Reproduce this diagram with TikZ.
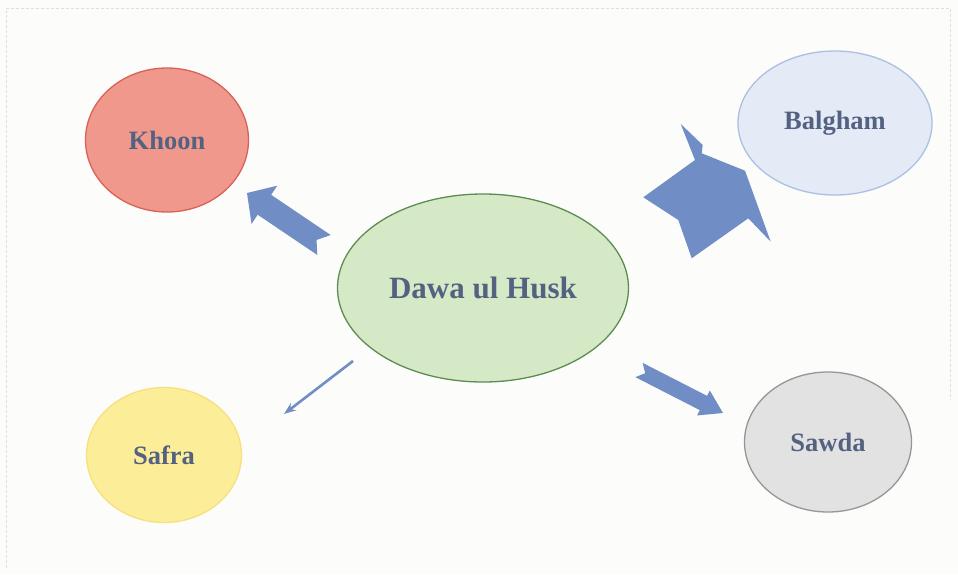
\documentclass[tikz,border=0pt]{standalone}
\usepackage{fontspec}
\setmainfont{Liberation Serif}
\usetikzlibrary{arrows.meta,shapes.geometric,calc}
\definecolor{hpaper}{RGB}{252,252,250}
\definecolor{hframe}{RGB}{222,222,222}
\definecolor{hlabel}{RGB}{84,98,130}
\definecolor{harrow}{RGB}{112,141,198}
\definecolor{khoonfill}{RGB}{240,152,140}
\definecolor{khoonline}{RGB}{216,98,88}
\definecolor{balfill}{RGB}{228,234,246}
\definecolor{balline}{RGB}{172,192,226}
\definecolor{dawafill}{RGB}{214,233,198}
\definecolor{dawaline}{RGB}{92,140,82}
\definecolor{safrafill}{RGB}{252,237,152}
\definecolor{safraline}{RGB}{246,224,128}
\definecolor{sawdafill}{RGB}{226,226,226}
\definecolor{sawdaline}{RGB}{150,150,150}
\tikzset{
  humour/.style={ellipse,line width=1.3pt,inner sep=0pt,text=hlabel,
    font=\bfseries\fontsize{26.5}{30}\selectfont},
  drugnode/.style={humour,font=\bfseries\fontsize{31}{34}\selectfont},
  blockfill/.style={fill=harrow},
  thinarrow/.style={-{Stealth[length=12pt,width=9pt]},line width=2.6pt,draw=harrow}
}
% tail, tip, half shaft, half head, head length, notch depth
\newcommand{\blockarr}[6]{%
  \coordinate (ba-n) at ($(#1)!#6!(#2)$);
  \coordinate (ba-h) at ($(#2)!#5!(#1)$);
  \fill[blockfill] ($(#1)!#3!90:(#2)$) -- (ba-n) -- ($(#1)!#3!-90:(#2)$)
    -- ($(ba-h)!#3!-90:(#2)$) -- ($(ba-h)!#4!-90:(#2)$) -- (#2)
    -- ($(ba-h)!#4!90:(#2)$) -- ($(ba-h)!#3!90:(#2)$) -- cycle;
}

\begin{document}
\begin{tikzpicture}[x=1pt,y=-1pt]
  \fill[hpaper] (0,0) rectangle (958,574);
  \draw[hframe,densely dashed,line width=0.6pt] (6,568) -- (6,8) -- (950,8) -- (950,400);
  \node[humour,fill=khoonfill,draw=khoonline,minimum width=163pt,minimum height=144pt] (khoon) at (167,140) {Khoon};
  \node[humour,fill=balfill,draw=balline,minimum width=194pt,minimum height=144pt] (balgham) at (835,123) {Balgham};
  \node[drugnode,fill=dawafill,draw=dawaline,minimum width=291pt,minimum height=188pt] (dawa) at (483,288) {Dawa ul Husk};
  \node[humour,fill=safrafill,draw=safraline,minimum width=155pt,minimum height=135pt] (safra) at (164,455) {Safra};
  \node[humour,fill=sawdafill,draw=sawdaline,minimum width=167pt,minimum height=140pt] (sawda) at (828,442) {Sawda};
  \coordinate (khoontail) at (324,245);
  \coordinate (khoontip) at (247,193);
  \coordinate (sawdatail) at (639,370);
  \coordinate (sawdatip) at (723,413);
  \coordinate (safratail) at (353,361);
  \coordinate (safratip) at (284,414);
  \blockarr{khoontail}{khoontip}{12pt}{23pt}{21pt}{9pt}
  \blockarr{sawdatail}{sawdatip}{8pt}{14pt}{22pt}{7pt}
  \draw[thinarrow] (safratail) -- (safratip);
  % bent arrow towards Balgham
  \fill[blockfill] (680.7,124) -- (702.7,145) -- (701.7,153.3) -- (745,170.7)
    -- (770.7,241.7) -- (748.3,218.3) -- (691.7,258.3) -- (678.3,220)
    -- (643.3,197.3) -- (695,160) -- cycle;
\end{tikzpicture}
\end{document}
